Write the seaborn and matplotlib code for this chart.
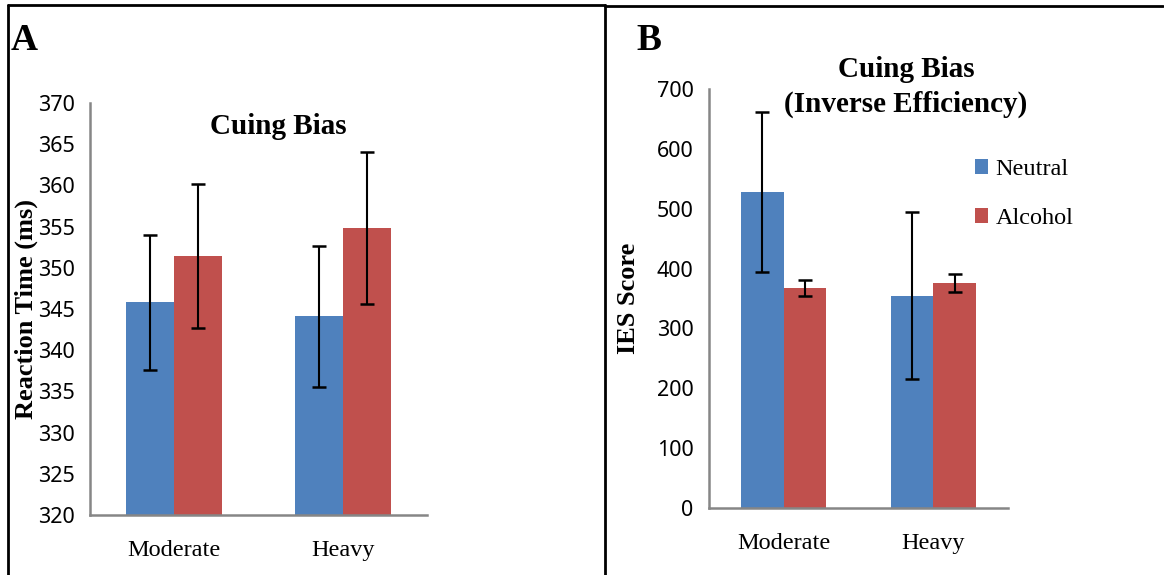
import pandas as pd
import matplotlib
matplotlib.use("Agg")
import matplotlib.pyplot as plt
import seaborn as sns
from matplotlib.lines import Line2D
from matplotlib.patches import Patch

# Data
groups = ["Moderate", "Heavy"]
cues = ["Neutral", "Alcohol"]

rt_neutral = [345.8, 344.1]
rt_alcohol = [351.4, 354.8]
rt_neutral_err = [8.2, 8.6]
rt_alcohol_err = [8.75, 9.2]

ies_neutral = [528, 355]
ies_alcohol = [368, 376]
ies_neutral_err = [134, 140]
ies_alcohol_err = [13.5, 14.8]

colors = {"Neutral": "#4F81BD", "Alcohol": "#C0504D"}
spine_gray = "#868686"

W, H = 1164, 575


def build_frame(neutral, alcohol, n_err, a_err):
    rows = []
    for i, g in enumerate(groups):
        rows.append({"Group": g, "Cue": "Neutral", "Value": neutral[i], "Err": n_err[i]})
        rows.append({"Group": g, "Cue": "Alcohol", "Value": alcohol[i], "Err": a_err[i]})
    return pd.DataFrame(rows)


def draw_panel(ax, df, ylim, yticks, ylabel, label_xy):
    sns.barplot(data=df, x="Group", y="Value", hue="Cue", order=groups,
                hue_order=cues, palette=colors, width=0.57, errorbar=None,
                saturation=1, linewidth=0, legend=False, ax=ax)
    # error bars placed on the bar centres
    for container, cue in zip(ax.containers, cues):
        sub = df[df["Cue"] == cue].set_index("Group").loc[groups]
        xs = [p.get_x() + p.get_width() / 2 for p in container.patches]
        ax.errorbar(xs, sub["Value"], yerr=sub["Err"], fmt="none",
                    ecolor="black", elinewidth=1.5, capsize=5, capthick=1.8,
                    zorder=5)
    ax.set_ylim(*ylim)
    ax.set_yticks(yticks)
    ax.set_xlim(-0.5, 1.5)
    ax.set_xticks([0, 1])
    ax.set_xticklabels(groups, fontfamily="Liberation Serif", fontsize=17.5,
                       color="black")
    ax.set_xticks([-0.5, 0.5, 1.5], minor=True)
    ax.tick_params(axis="x", which="major", length=0, pad=18)
    ax.tick_params(axis="x", which="minor", length=7, width=1.5, color=spine_gray)
    ax.tick_params(axis="y", length=7, width=1.5, color=spine_gray, pad=4,
                   labelsize=15.5, labelcolor="black")
    for lab in ax.get_yticklabels():
        lab.set_fontfamily("Noto Sans")
    for s in ["top", "right"]:
        ax.spines[s].set_visible(False)
    for s in ["left", "bottom"]:
        ax.spines[s].set_color(spine_gray)
        ax.spines[s].set_linewidth(1.8)
    ax.set_xlabel("")
    ax.set_ylabel(ylabel, fontfamily="Liberation Serif", fontweight="bold",
                  fontsize=19, va="center", color="black")
    ax.yaxis.set_label_coords(*label_xy)
    ax.set_facecolor("white")


sns.set_theme(style="white")
plt.rcParams["font.family"] = ["Liberation Serif", "DejaVu Sans"]
plt.rcParams["text.color"] = "black"

fig = plt.figure(figsize=(W / 100, H / 100), dpi=100)
fig.patch.set_facecolor("white")


def px_axes(x0, y0, x1, y1):
    return fig.add_axes([x0 / W, 1 - y1 / H, (x1 - x0) / W, (y1 - y0) / H])


ax_a = px_axes(90, 103, 427, 515)
ax_b = px_axes(709, 89, 1008, 508)

df_a = build_frame(rt_neutral, rt_alcohol, rt_neutral_err, rt_alcohol_err)
df_b = build_frame(ies_neutral, ies_alcohol, ies_neutral_err, ies_alcohol_err)

draw_panel(ax_a, df_a, (320, 370), range(320, 371, 5), "Reaction Time (ms)",
           (-0.19, 0.5))
draw_panel(ax_b, df_b, (0, 700), range(0, 701, 100), "IES Score",
           (-0.27, 0.5))

# titles and panel letters
fig.text(278 / W, 1 - 127 / H, "Cuing Bias", ha="center", va="center",
         fontsize=21, fontweight="bold")
fig.text(906 / W, 1 - 87 / H, "Cuing Bias\n(Inverse Efficiency)", ha="center",
         va="center", fontsize=21, fontweight="bold", linespacing=1.33)
fig.text(11 / W, 1 - 40 / H, "A", ha="left", va="center", fontsize=27,
         fontweight="bold")
fig.text(636 / W, 1 - 40 / H, "B", ha="left", va="center", fontsize=27,
         fontweight="bold")

# legend on panel B
handles = [Patch(facecolor=colors[c], edgecolor="none", label=c) for c in cues]
ax_b.legend(handles=handles, loc="upper left", bbox_to_anchor=(975 / W, 1 - 159 / H),
            bbox_transform=fig.transFigure, frameon=False, fontsize=17.5,
            handlelength=0.55, handleheight=0.55, handletextpad=0.3,
            labelspacing=1.15, borderpad=0, borderaxespad=0)

# panel frames
frame_kw = dict(color="black", linewidth=2, transform=fig.transFigure)
fig.add_artist(Line2D([8 / W, 8 / W], [0, 1 - 5 / H], **frame_kw))
fig.add_artist(Line2D([8 / W, 605 / W], [1 - 5 / H, 1 - 5 / H], **frame_kw))
fig.add_artist(Line2D([605 / W, 605 / W], [0, 1 - 5 / H], **frame_kw))
fig.add_artist(Line2D([605 / W, 1 - 1 / W], [1 - 6 / H, 1 - 6 / H], **frame_kw))

fig.savefig("out.png", dpi=100, facecolor="white")
